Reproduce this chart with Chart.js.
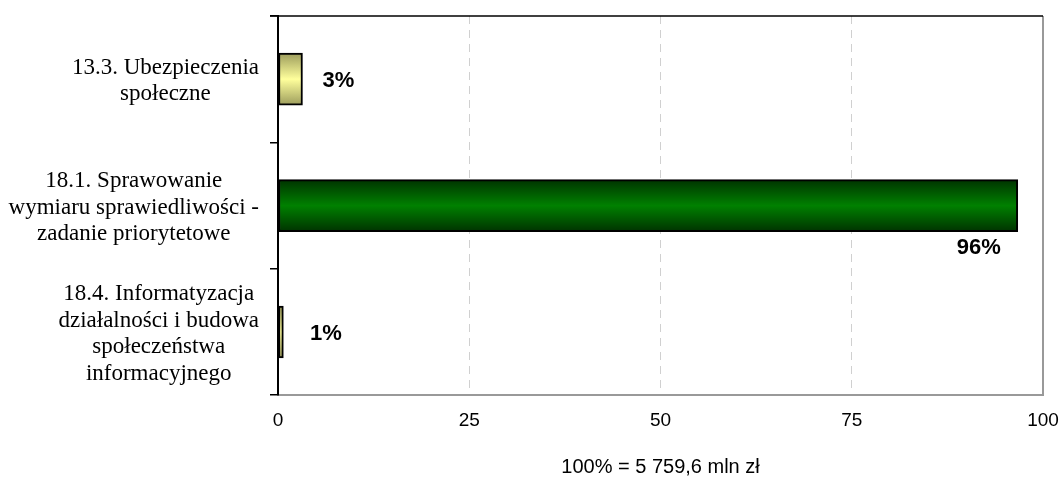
<!DOCTYPE html>
<html>
<head>
<meta charset="utf-8">
<script src="https://cdn.jsdelivr.net/npm/chart.js@4/dist/chart.umd.min.js"></script>
<style>
  html, body { margin: 0; padding: 0; background: #fff; }
  #wrap { width: 1063px; height: 479px; }
</style>
</head>
<body>
<div id="wrap"><canvas id="myChart"></canvas></div>
<script>
const categories = [
  ["13.3. Ubezpieczenia", "społeczne"],
  ["18.1. Sprawowanie", "wymiaru sprawiedliwości -", "zadanie priorytetowe"],
  ["18.4. Informatyzacja", "działalności i budowa", "społeczeństwa", "informacyjnego"],
];
const shares = [3.2, 96.7, 0.7];
const valueLabels = ["3%", "96%", "1%"];
const xTicks = [0, 25, 50, 75, 100];
const footnote = "100% = 5 759,6 mln zł";

const palette = [
  ["#9c9c5c", "#ffff9c"],
  ["#003300", "#008000"],
  ["#9c9c5c", "#ffff9c"],
];

const ctx = document.getElementById("myChart");

function barFill(context) {
  const chart = context.chart;
  const yScale = chart.scales.y;
  const [edge, mid] = palette[context.dataIndex];
  const yc = yScale ? yScale.getPixelForValue(context.dataIndex) : NaN;
  if (!isFinite(yc)) return mid;
  const g = chart.ctx.createLinearGradient(0, yc - 26, 0, yc + 26);
  g.addColorStop(0, edge);
  g.addColorStop(0.5, mid);
  g.addColorStop(1, edge);
  return g;
}

// category labels: right-aligned block, lines centred inside it
const labelPlugin = {
  id: "catLabels",
  afterDraw(chart) {
    const c = chart.ctx;
    const y = chart.scales.y;
    c.save();
    c.font = '23px "Liberation Serif", "Times New Roman", serif';
    c.fillStyle = "#000";
    c.textBaseline = "middle";
    c.textAlign = "center";
    const lh = 26.5;
    categories.forEach((lines, i) => {
      const w = Math.max(...lines.map((l) => c.measureText(l).width));
      const cx = 259 - w / 2;
      const yc = y.getPixelForValue(i) + 2;
      lines.forEach((l, k) => {
        c.fillText(l, cx, yc + (k - (lines.length - 1) / 2) * lh);
      });
    });
    c.restore();
  },
};

const valuePlugin = {
  id: "valueLabels",
  afterDatasetsDraw(chart) {
    const c = chart.ctx;
    const a = chart.chartArea;
    const meta = chart.getDatasetMeta(0);
    c.save();
    c.font = 'bold 22px "Liberation Sans", Arial, sans-serif';
    c.fillStyle = "#000";
    c.textBaseline = "middle";
    meta.data.forEach((bar, i) => {
      if (shares[i] > 50) {
        c.textAlign = "right";
        c.fillText(valueLabels[i], bar.x - 17, bar.y + 42);
      } else {
        c.textAlign = "left";
        c.fillText(valueLabels[i], Math.max(bar.x + 20, a.left + 32), bar.y + 2);
      }
    });
    c.restore();
  },
};

const framePlugin = {
  id: "frame",
  afterDraw(chart) {
    const a = chart.chartArea;
    const c = chart.ctx;
    c.save();
    c.strokeStyle = "#999";
    c.lineWidth = 2;
    c.beginPath();
    c.moveTo(a.right, a.top);
    c.lineTo(a.right, a.bottom);
    c.stroke();
    c.strokeStyle = "#000";
    c.lineWidth = 1.5;
    c.beginPath();
    c.moveTo(a.left - 8, a.top);
    c.lineTo(a.right, a.top);
    c.stroke();
    c.restore();
  },
};

new Chart(ctx, {
  type: "bar",
  data: {
    labels: categories,
    datasets: [
      {
        data: shares,
        backgroundColor: barFill,
        borderColor: "#000",
        borderWidth: 2,
        borderSkipped: false,
        barThickness: 52,
      },
    ],
  },
  plugins: [labelPlugin, valuePlugin, framePlugin],
  options: {
    indexAxis: "y",
    responsive: true,
    maintainAspectRatio: false,
    animation: false,
    layout: { padding: { top: 16, right: 20, bottom: 0, left: 0 } },
    plugins: {
      legend: { display: false },
      tooltip: { enabled: false },
    },
    scales: {
      x: {
        min: 0,
        max: 100,
        afterBuildTicks: (s) => {
          s.ticks = xTicks.map((v) => ({ value: v }));
        },
        afterFit: (s) => {
          s.paddingLeft = 0;
          s.paddingRight = 0;
        },
        ticks: {
          color: "#000",
          padding: 14,
          maxRotation: 0,
          font: { family: '"Liberation Sans", Arial, sans-serif', size: 19 },
        },
        title: {
          display: true,
          text: footnote,
          color: "#000",
          font: { family: '"Liberation Sans", Arial, sans-serif', size: 20 },
          padding: { top: 9, bottom: 0 },
        },
        grid: {
          color: (c) => (c.tick && c.tick.value === 0 ? "rgba(0,0,0,0)" : "#d0d0d0"),
          lineWidth: 1,
          tickLength: 0,
        },
        border: { color: "#999", width: 2, dash: [8, 6] },
      },
      y: {
        offset: true,
        afterFit: (s) => {
          s.width = 278;
        },
        ticks: { display: false },
        grid: {
          offset: true,
          drawOnChartArea: false,
          color: "#000",
          tickLength: 8,
          lineWidth: 1.5,
        },
        border: { color: "#000", width: 2 },
      },
    },
  },
});
</script>
</body>
</html>
